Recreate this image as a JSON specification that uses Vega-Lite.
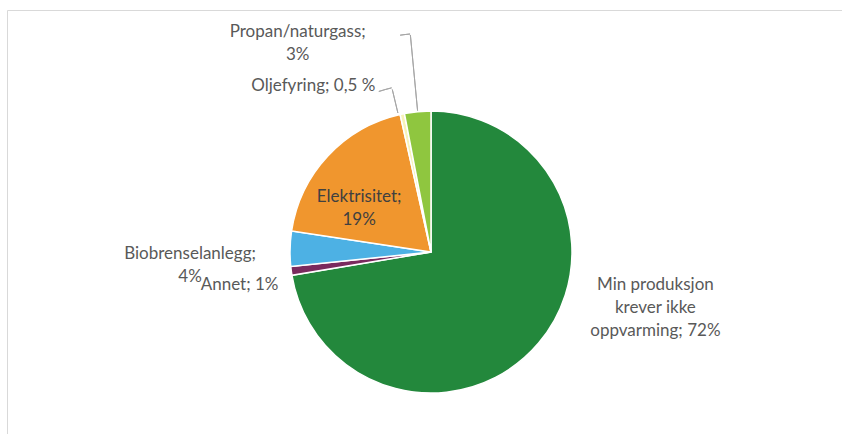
{
  "$schema": "https://vega.github.io/schema/vega-lite/v6.json",
  "usermeta": {"embedOptions": {"actions": false}},
  "width": 848,
  "height": 484,
  "autosize": "none",
  "padding": {"left": 7, "top": 10, "right": -13, "bottom": -60},
  "background": "white",
  "view": {"stroke": "#d9d9d9", "strokeWidth": 1},
  "config": {
    "text": {"font": "Lato", "fontSize": 17, "fill": "#595959", "lineHeight": 23, "lineBreak": "\n", "align": "center", "baseline": "middle"}
  },
  "data": {
    "values": [
      {"order": 1, "cat": "Min produksjon krever ikke oppvarming", "value": 72, "label": "Min produksjon\nkrever ikke\noppvarming; 72%"},
      {"order": 2, "cat": "Annet", "value": 1, "label": "Annet; 1%"},
      {"order": 3, "cat": "Biobrenselanlegg", "value": 4, "label": "Biobrenselanlegg;\n4%"},
      {"order": 4, "cat": "Elektrisitet", "value": 19, "label": "Elektrisitet;\n19%"},
      {"order": 5, "cat": "Oljefyring", "value": 0.5, "label": "Oljefyring; 0,5 %"},
      {"order": 6, "cat": "Propan/naturgass", "value": 3, "label": "Propan/naturgass;\n3%"}
    ]
  },
  "encoding": {
    "theta": {"field": "value", "type": "quantitative", "stack": true},
    "order": {"field": "order", "type": "quantitative"}
  },
  "layer": [
    {
      "mark": {"type": "arc", "radius": 141, "stroke": "white", "strokeWidth": 1.5},
      "encoding": {
        "color": {
          "field": "cat",
          "type": "nominal",
          "legend": null,
          "scale": {
            "domain": ["Min produksjon krever ikke oppvarming", "Annet", "Biobrenselanlegg", "Elektrisitet", "Oljefyring", "Propan/naturgass"],
            "range": ["#23883c", "#7a2a5e", "#4db1e4", "#f0962e", "#f7f3b8", "#8fc63f"]
          }
        }
      }
    },
    {
      "mark": {"type": "arc", "radius": 218, "radius2": 142, "padAngle": 1, "fill": "transparent", "stroke": "#a6a6a6", "strokeWidth": 1},
      "encoding": {
        "strokeOpacity": {"condition": {"test": "datum.order === 6", "value": 1}, "value": 0}
      }
    },
    {
      "mark": {"type": "arc", "radius": 219, "radius2": 219, "padAngle": 0.1018, "thetaOffset": -0.0239, "fill": "transparent", "stroke": "#a6a6a6", "strokeWidth": 1},
      "encoding": {
        "strokeOpacity": {"condition": {"test": "datum.order === 6", "value": 1}, "value": 0}
      }
    },
    {
      "mark": {"type": "arc", "radius": 167, "radius2": 143, "padAngle": 1, "thetaOffset": -0.0286, "fill": "transparent", "stroke": "#a6a6a6", "strokeWidth": 1},
      "encoding": {
        "strokeOpacity": {"condition": {"test": "datum.order === 5", "value": 1}, "value": 0}
      }
    },
    {
      "mark": {"type": "arc", "radius": 168.8, "radius2": 168.8, "padAngle": 0.0783, "thetaOffset": -0.1801, "fill": "transparent", "stroke": "#a6a6a6", "strokeWidth": 1},
      "encoding": {
        "strokeOpacity": {"condition": {"test": "datum.order === 6", "value": 1}, "value": 0}
      }
    },
    {
      "mark": {"type": "text", "radius": 180, "dx": 87, "dy": -83},
      "encoding": {"text": {"condition": {"test": "datum.order === 1", "field": "label"}, "value": ""}}
    },
    {
      "mark": {"type": "text", "radius": 180, "dx": -13, "dy": 9},
      "encoding": {"text": {"condition": {"test": "datum.order === 2", "field": "label"}, "value": ""}}
    },
    {
      "mark": {"type": "text", "radius": 200, "dx": -41, "dy": 7},
      "encoding": {"text": {"condition": {"test": "datum.order === 3", "field": "label"}, "value": ""}}
    },
    {
      "mark": {"type": "text", "radius": 90, "dx": -6, "dy": 6, "fill": "#404040"},
      "encoding": {"text": {"condition": {"test": "datum.order === 4", "field": "label"}, "value": ""}}
    },
    {
      "mark": {"type": "text", "radius": 175, "dx": -20, "dy": 5, "align": "right"},
      "encoding": {"text": {"condition": {"test": "datum.order === 5", "field": "label"}, "value": ""}}
    },
    {
      "mark": {"type": "text", "radius": 215, "dx": -113, "dy": -6},
      "encoding": {"text": {"condition": {"test": "datum.order === 6", "field": "label"}, "value": ""}}
    }
  ]
}
